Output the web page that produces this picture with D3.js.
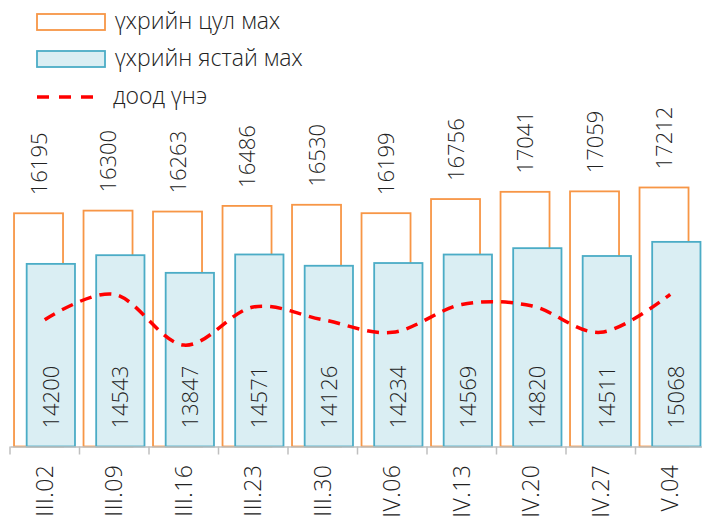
<!DOCTYPE html>
<html>
<head>
<meta charset="utf-8">
<script src="https://cdn.jsdelivr.net/npm/d3@7"></script>
<style>
    body { margin: 0; background: #fff; }
    svg { display: block; font-family: "Open Sans", sans-serif; }
    .lbl { font-size: 22px; font-weight: 300; fill: #222; }
    .cat-lbl { font-size: 23px; font-weight: 300; fill: #222; }
    .legend-text { font-size: 23px; font-weight: 300; fill: #222; }
</style>
</head>
<body>
<div id="chart"></div>
<script>
// dates (week)
const categories = ['III.02', 'III.09', 'III.16', 'III.23', 'III.30', 'IV.06', 'IV.13', 'IV.20', 'IV.27', 'V.04'];
// үхрийн цул мах
const tsulMakh = [16195, 16300, 16263, 16486, 16530, 16199, 16756, 17041, 17059, 17212];
// үхрийн ястай мах
const yastaiMakh = [14200, 14543, 13847, 14571, 14126, 14234, 14569, 14820, 14511, 15068];
// доод үнэ (no labels on chart, read from line position)
const doodUne = [12000, 13000, 11000, 12500, 12000, 11500, 12600, 12550, 11500, 13000];

const seriesNames = ['үхрийн цул мах', 'үхрийн ястай мах', 'доод үнэ'];
const yDomain = [7000, 18000];

const width = 702, height = 517;

let margin = {
    top: 167.5,
    left: 10,
    right: -3,
    bottom: 70.5
};

var svg = d3.select("#chart")
    .append("svg")
    .attr("width", width)
    .attr("height", height);

var xScale = d3.scaleBand()
    .domain(categories)
    .range([margin.left, width - margin.right]);

var yScale = d3.scaleLinear()
    .domain(yDomain)
    .range([height - margin.bottom, margin.top]);

const bw = xScale.bandwidth();
const baseY = yScale(yDomain[0]);

// series band position inside a category (overlapping bars)
const orangeOff = bw * 0.058, orangeW = bw * 0.705;
const blueOff = bw * 0.24, blueW = bw * 0.695;

// orange bars
svg.append("g").selectAll("rect")
    .data(tsulMakh)
    .join("rect")
    .attr("x", (d, i) => xScale(categories[i]) + orangeOff)
    .attr("y", d => yScale(d))
    .attr("width", orangeW)
    .attr("height", d => baseY - yScale(d))
    .attr("fill", "#fff")
    .attr("stroke", "#F79646")
    .attr("stroke-width", 1.8);

// labels above orange bars
svg.append("g").selectAll("text")
    .data(tsulMakh)
    .join("text")
    .attr("class", "lbl")
    .attr("transform", (d, i) => "translate(" + (xScale(categories[i]) + orangeOff + orangeW / 2 + 8) + "," + (yScale(d) - 18) + ") rotate(-90)")
    .text(d => d);

// blue bars
svg.append("g").selectAll("rect")
    .data(yastaiMakh)
    .join("rect")
    .attr("x", (d, i) => xScale(categories[i]) + blueOff)
    .attr("y", d => yScale(d))
    .attr("width", blueW)
    .attr("height", d => baseY - yScale(d))
    .attr("fill", "#DAEEF3")
    .attr("stroke", "#4BACC6")
    .attr("stroke-width", 1.8);

// labels inside blue bars
svg.append("g").selectAll("text")
    .data(yastaiMakh)
    .join("text")
    .attr("class", "lbl")
    .attr("transform", (d, i) => "translate(" + (xScale(categories[i]) + blueOff + blueW / 2 + 8) + "," + (baseY - 18) + ") rotate(-90)")
    .text(d => d);

// x axis
var xAxis = d3.axisBottom(xScale).tickSize(0).tickFormat("");
var xGroup = svg.append("g")
    .attr("transform", "translate(0," + baseY + ")")
    .call(xAxis);
xGroup.select(".domain").attr("stroke", "#BFBFBF").attr("stroke-width", 1.5);

// boundary ticks between categories
svg.append("g").selectAll("line")
    .data(categories)
    .join("line")
    .attr("x1", d => xScale(d))
    .attr("x2", d => xScale(d))
    .attr("y1", baseY)
    .attr("y2", baseY + 8)
    .attr("stroke", "#BFBFBF")
    .attr("stroke-width", 1.5);

// category labels
svg.append("g").selectAll("text")
    .data(categories)
    .join("text")
    .attr("class", "cat-lbl")
    .attr("text-anchor", "end")
    .attr("letter-spacing", "0.5px")
    .attr("transform", d => "translate(" + (xScale(d) + bw / 2 + 8) + "," + (baseY + 18) + ") rotate(-90)")
    .text(d => d);

// lower price line
var line = d3.line()
    .x((d, i) => xScale(categories[i]) + bw / 2)
    .y(d => yScale(d))
    .curve(d3.curveCardinal.tension(0));

svg.append("path")
    .datum(doodUne)
    .attr("d", line)
    .attr("fill", "none")
    .attr("stroke", "#FF0000")
    .attr("stroke-width", 3.5)
    .attr("stroke-dasharray", "12,8");

// legend
var legend = svg.append("g").attr("id", "legend");

legend.append("rect")
    .attr("x", 37).attr("y", 14).attr("width", 68).attr("height", 16)
    .attr("fill", "#fff").attr("stroke", "#F79646").attr("stroke-width", 1.8);
legend.append("text")
    .attr("class", "legend-text").attr("x", 115).attr("y", 29)
    .text(seriesNames[0]);

legend.append("rect")
    .attr("x", 37).attr("y", 51).attr("width", 68).attr("height", 16)
    .attr("fill", "#DAEEF3").attr("stroke", "#4BACC6").attr("stroke-width", 1.8);
legend.append("text")
    .attr("class", "legend-text").attr("x", 115).attr("y", 66)
    .text(seriesNames[1]);

legend.append("path")
    .attr("d", "M37 97 L97 97")
    .attr("stroke", "#FF0000").attr("stroke-width", 3.5)
    .attr("stroke-dasharray", "12,10");
legend.append("text")
    .attr("class", "legend-text").attr("x", 113).attr("y", 104)
    .text(seriesNames[2]);
</script>
</body>
</html>
